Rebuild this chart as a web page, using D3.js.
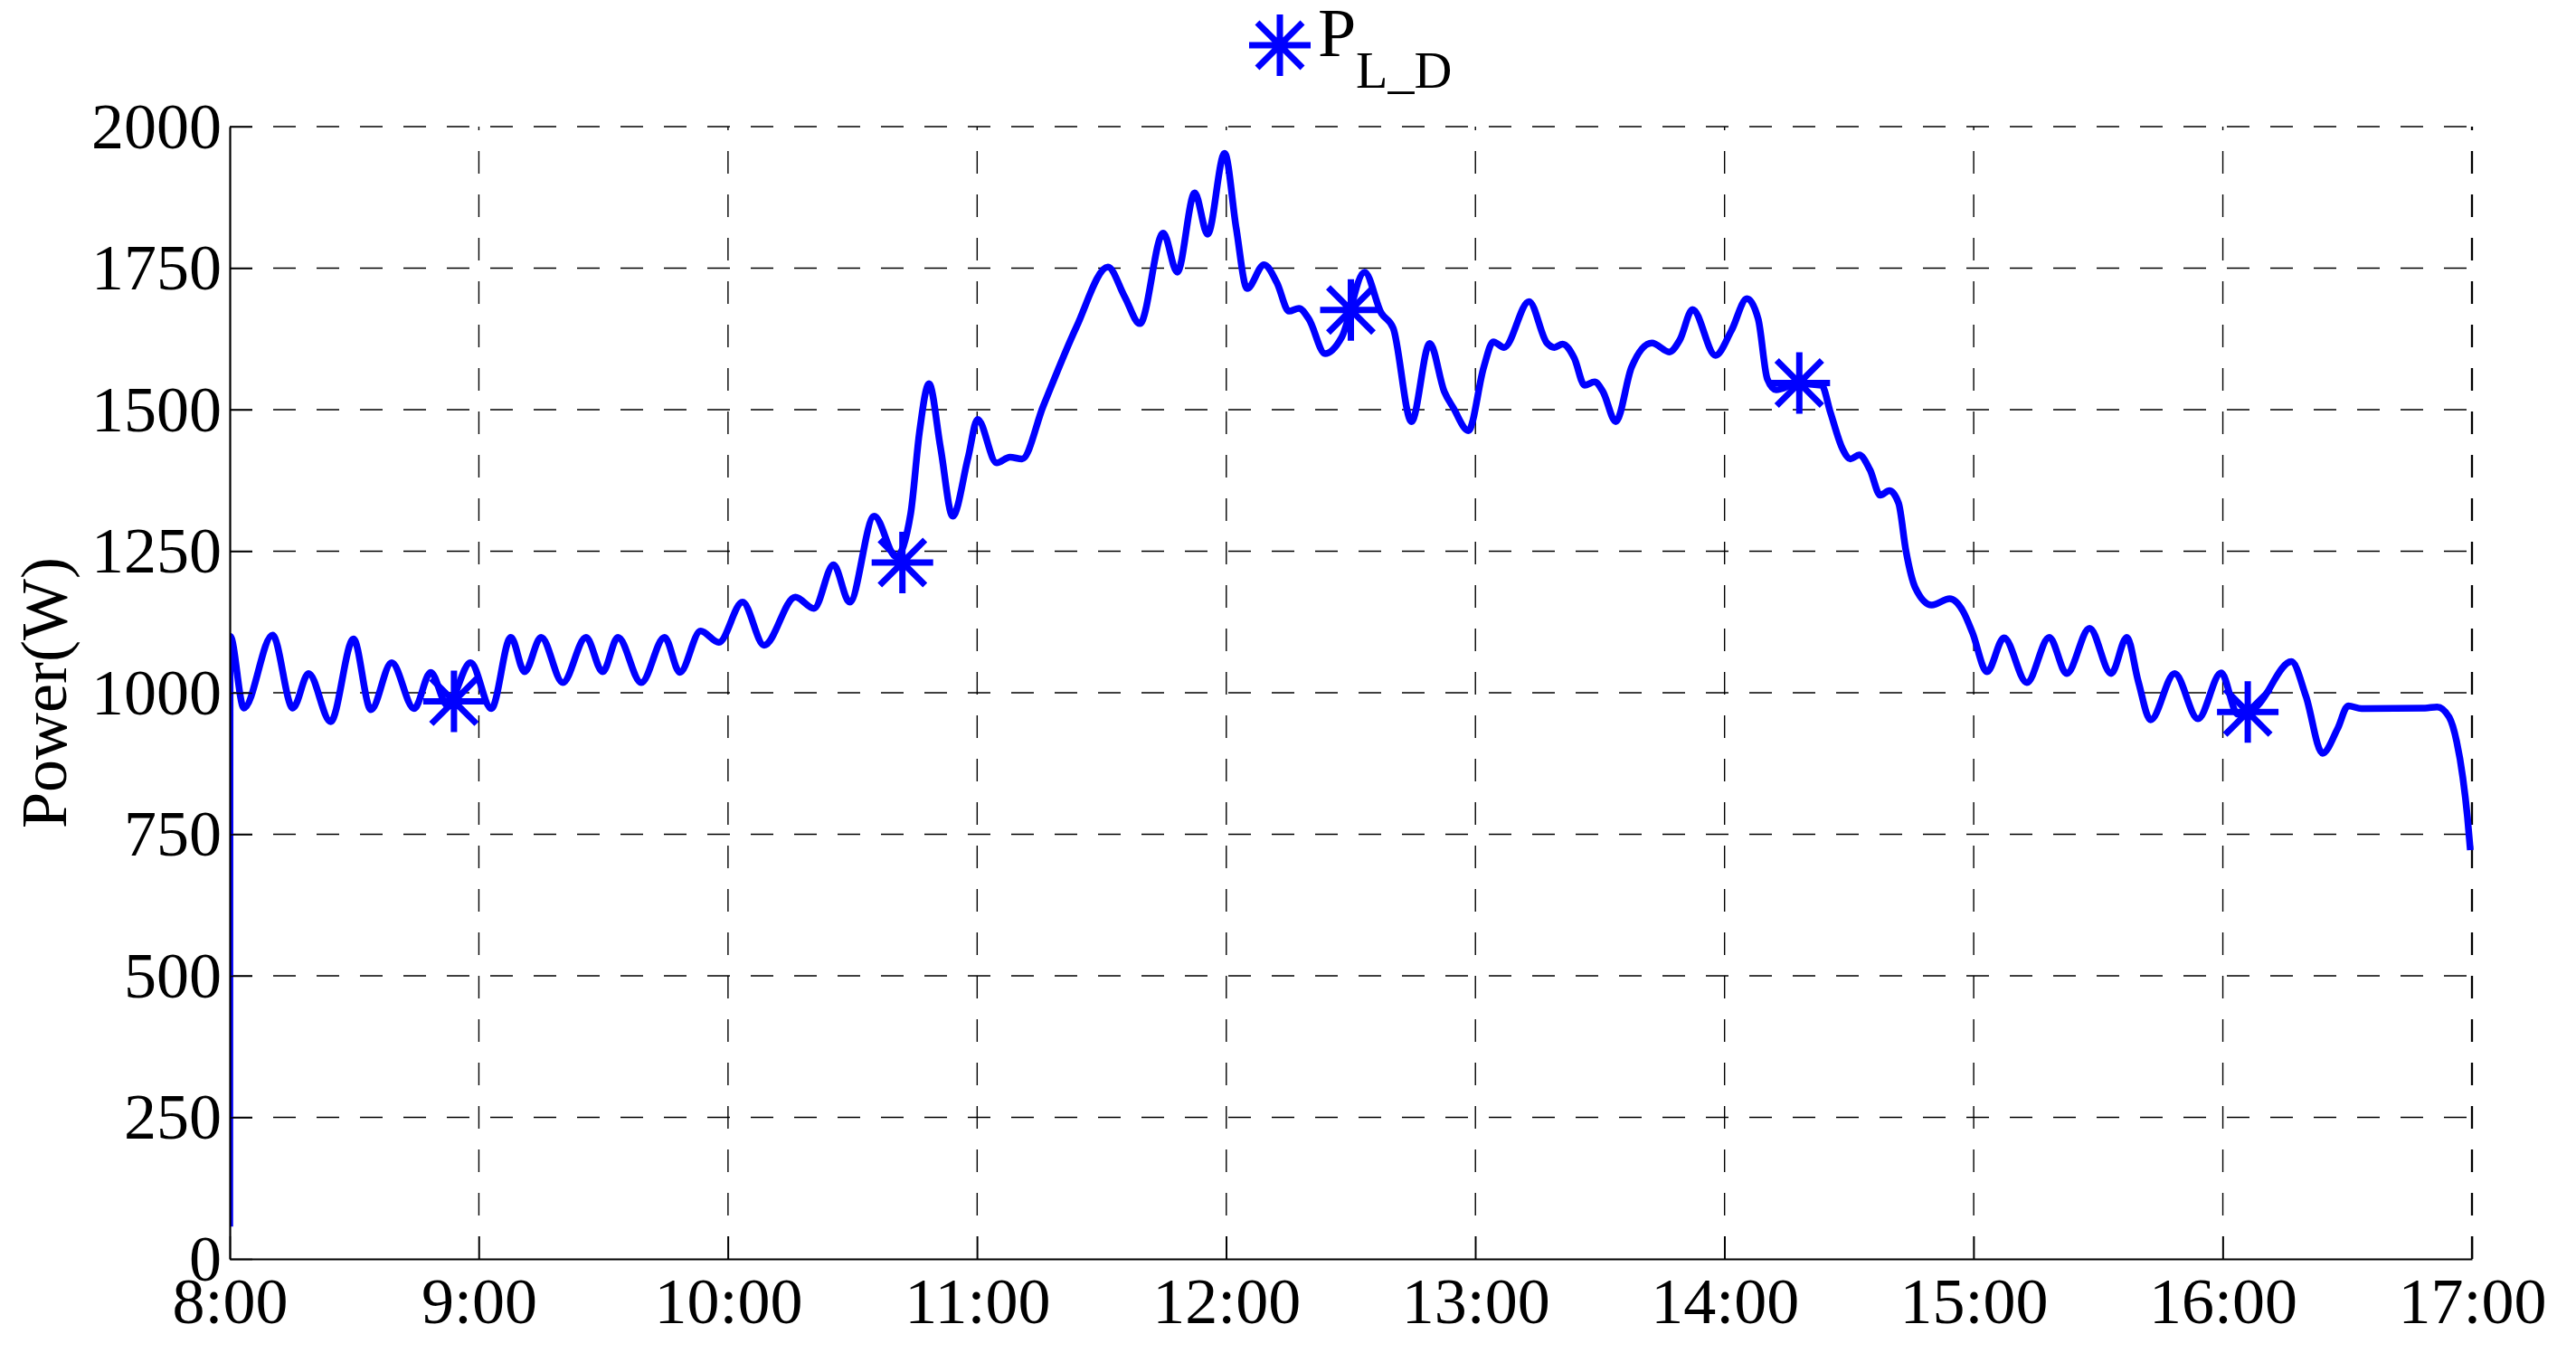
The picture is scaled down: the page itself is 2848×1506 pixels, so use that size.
<!DOCTYPE html>
<html>
<head>
<meta charset="utf-8">
<script src="https://cdn.jsdelivr.net/npm/d3@7"></script>
<style>
  html, body { margin: 0; padding: 0; background: #fff; }
  svg { display: block; }
  text { font-family: "Liberation Serif", "Times New Roman", serif; fill: #000; }
</style>
</head>
<body>
<script>
// ---------- data (minutes after 8:00, power in W) ----------
const times = [
  0, 0.1, 3.4, 10.3, 15.2, 19, 24.3, 29.8, 34, 39, 44.4, 48.4, 52.4, 58, 63,
  67.7, 71, 75, 80.2, 85.8, 89.8, 93.5, 99.1, 104.7, 108.4, 113.4, 117.8,
  123.5, 128.7, 136.2, 140.7, 145.4, 149.3, 155.2, 160.5, 164, 166.1, 168.4,
  171.2, 174.1, 177.8, 180.1, 184.7, 187.9, 190.8, 195.9, 203.9, 211.5, 215.5,
  219.2, 224.8, 228.2, 232.4, 235.5, 239.6, 242.4, 245, 249.1, 252.2, 255.1,
  257.5, 259.9, 263.8, 267.8, 273.3, 277.3, 280.2, 284.6, 289, 292.5, 294.7,
  298.3, 302, 304.3, 306.9, 312.9, 317.2, 319, 321, 323.8, 326.3, 328.7, 330.7,
  333.8, 337.6, 342.5, 346.7, 349.2, 352.3, 357.8, 361.6, 365.4, 368.1, 370.3,
  372.4, 377.6, 383.4, 385.5, 388.4, 390.3, 392.4, 395, 397.5, 399.7, 401.9,
  403.7, 405.9, 409.9, 414.2, 417.5, 419.7, 423.2, 427.3, 432.8, 438.2, 442.4,
  447.9, 453.1, 456.9, 459.6, 462.6, 468.4, 474, 479.6, 483.6, 488, 496.5, 500, 504,
  507.6, 510.2, 513.4, 528.7, 531.6, 534.5, 536.3, 537.8, 538.9, 539.6
];
const power = [
  57, 1100, 973, 1102, 973, 1034, 949, 1095, 970, 1053, 972, 1036, 978, 1053, 972,
  1098, 1037, 1098, 1018, 1098, 1037, 1098, 1018, 1098, 1036, 1109, 1089,
  1160, 1084, 1169, 1149, 1226, 1160, 1312, 1240, 1317, 1460, 1546,
  1432, 1312, 1415, 1483, 1406, 1416, 1413, 1506, 1646, 1752, 1700,
  1652, 1812, 1743, 1883, 1810, 1953, 1820, 1714, 1756, 1724, 1674,
  1679, 1660, 1599, 1628, 1743, 1671, 1644, 1479, 1617, 1532, 1503,
  1463, 1575, 1620, 1610, 1691, 1618, 1610, 1616, 1591, 1543, 1549, 1532,
  1479, 1575, 1618, 1602, 1623, 1677, 1596, 1639, 1696, 1660, 1554,
  1535, 1546, 1543, 1495, 1431, 1413, 1420, 1394, 1349, 1357, 1335,
  1250, 1186, 1155, 1166, 1143, 1106, 1037, 1097, 1018, 1098, 1034,
  1114, 1034, 1098, 1021, 952, 1034, 954, 1035, 962, 975, 1055, 994, 893,
  936, 977, 972, 973, 975, 957, 914, 850, 781, 722
];
const markerTimes  = [54, 162, 270, 378, 486];
const markerValues = [985, 1230, 1676, 1547, 966];

const xTickValues = [0, 60, 120, 180, 240, 300, 360, 420, 480, 540];
const xTickLabels = ["8:00", "9:00", "10:00", "11:00", "12:00", "13:00", "14:00", "15:00", "16:00", "17:00"];
const yTickValues = [0, 250, 500, 750, 1000, 1250, 1500, 1750, 2000];

const seriesName = "P";
const seriesSub = "L_D";
const yLabel = "Power(W)";

// ---------- layout ----------
const W = 2848, H = 1506;
const L = 254, R = 2733, T = 140, B = 1392;
const FONT = 72;
const BLUE = "#0000ff";

const svg = d3.select("body").append("svg").attr("width", W).attr("height", H);

const x = d3.scaleLinear().domain([0, 540]).range([L, R]);
const y = d3.scaleLinear().domain([0, 2000]).range([B, T]);

// grid
const grid = svg.append("g").attr("stroke", "#000").attr("fill", "none")
  .attr("stroke-dasharray", "25,23");
grid.selectAll("line.gx").data(xTickValues.slice(1)).join("line")
  .attr("class", "gx")
  .attr("x1", d => x(d)).attr("x2", d => x(d))
  .attr("y1", B).attr("y2", T)
  .attr("stroke-width", d => d === 540 ? 2.3 : 1.4);
grid.selectAll("line.gy").data(yTickValues.slice(1)).join("line")
  .attr("class", "gy")
  .attr("x1", L).attr("x2", R)
  .attr("y1", d => y(d)).attr("y2", d => y(d))
  .attr("stroke-width", 1.5);

// clip
svg.append("defs").append("clipPath").attr("id", "plotclip")
  .append("rect").attr("x", L).attr("y", T - 10).attr("width", R - L + 2).attr("height", B - T + 10);

const data = times.map((t, i) => ({ t, v: power[i] }));
const line = d3.line().x(d => x(d.t)).y(d => y(d.v)).curve(d3.curveMonotoneX);

svg.append("path")
  .datum(data)
  .attr("clip-path", "url(#plotclip)")
  .attr("d", line)
  .attr("fill", "none")
  .attr("stroke", BLUE)
  .attr("stroke-width", 7.5)
  .attr("stroke-linejoin", "round");

// asterisk markers
const star = "M-34,0H34M0,-34V34M-25,-25L25,25M-25,25L25,-25";
svg.append("g").selectAll("path").data(markerTimes.map((t, i) => ({ t, v: markerValues[i] })))
  .join("path")
  .attr("transform", d => `translate(${x(d.t)},${y(d.v)})`)
  .attr("d", star)
  .attr("fill", "none")
  .attr("stroke", BLUE)
  .attr("stroke-width", 7);

// axes
const xAxis = d3.axisBottom(x).tickValues(xTickValues)
  .tickFormat((d, i) => xTickLabels[i])
  .tickSizeInner(-25).tickSizeOuter(0).tickPadding(20);
const yAxis = d3.axisLeft(y).tickValues(yTickValues)
  .tickFormat(d3.format("d"))
  .tickSizeInner(-25).tickSizeOuter(0).tickPadding(9);

const gx = svg.append("g").attr("transform", `translate(0,${B})`).call(xAxis);
const gy = svg.append("g").attr("transform", `translate(${L},0)`).call(yAxis);
[gx, gy].forEach(g => {
  g.select(".domain").attr("stroke", "#000").attr("stroke-width", 2.2);
  g.selectAll(".tick line").attr("stroke", "#000").attr("stroke-width", 1.5);
  g.selectAll(".tick text")
    .style("font-family", '"Liberation Serif", "Times New Roman", serif')
    .style("font-size", FONT + "px")
    .attr("fill", "#000");
});

// y label
svg.append("text")
  .attr("transform", `translate(73,${(T + B) / 2}) rotate(-90)`)
  .attr("text-anchor", "middle")
  .style("font-size", FONT + "px")
  .text(yLabel);

// legend
svg.append("path")
  .attr("transform", "translate(1415,50)")
  .attr("d", star)
  .attr("fill", "none")
  .attr("stroke", BLUE)
  .attr("stroke-width", 7);
const lt = svg.append("text").attr("x", 1457).attr("y", 62);
lt.append("tspan").style("font-size", "76px").text(seriesName);
lt.append("tspan").attr("x", 1499).attr("y", 97).style("font-size", "58px").text(seriesSub);
</script>
</body>
</html>
